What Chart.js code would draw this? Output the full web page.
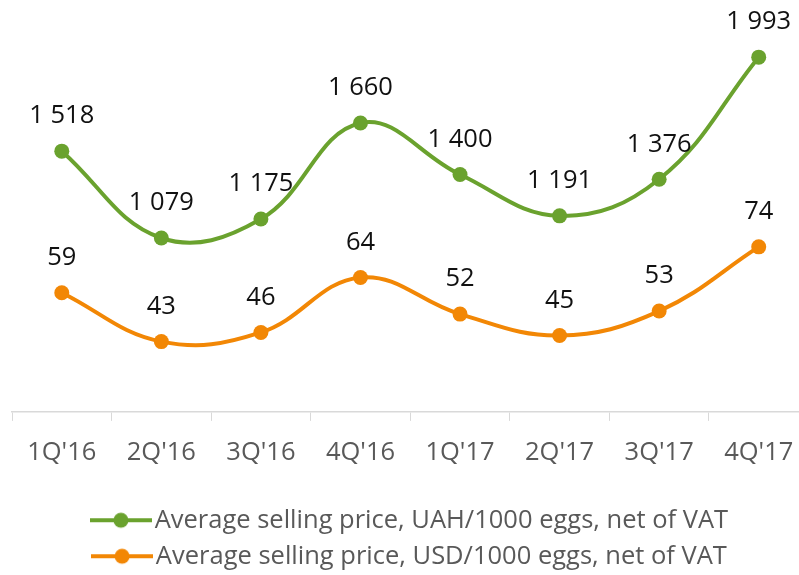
<!DOCTYPE html>
<html>
<head>
<meta charset="utf-8">
<script src="https://cdn.jsdelivr.net/npm/chart.js@4.4.0/dist/chart.umd.min.js"></script>
<style>
    html, body { margin: 0; padding: 0; background: #ffffff; overflow: hidden; }
</style>
</head>
<body>
<!-- canvas a bit wider than the window: the last category runs off the right edge -->
<canvas id="egg-prices" width="816" height="575"></canvas>
<script>
var quarters = ["1Q'16", "2Q'16", "3Q'16", "4Q'16", "1Q'17", "2Q'17", "3Q'17", "4Q'17"];
var uahPrice = [1518, 1079, 1175, 1660, 1400, 1191, 1376, 1993];
var usdPrice = [59, 43, 46, 64, 52, 45, 53, 74];
var seriesNames = [
    'Average selling price, UAH/1000 eggs, net of VAT',
    'Average selling price, USD/1000 eggs, net of VAT'
];

var GREEN = '#6aa22e';
var ORANGE = '#f28705';
var FONT = "'Open Sans', 'Noto Sans', sans-serif";

Chart.defaults.font.family = FONT;

// number with a space as thousands separator, like "1 518"
function fmt(v) {
    return String(v).replace(/\B(?=(\d{3})+(?!\d))/g, ' ');
}

// legend marker: short line with a dot in the middle
function legendMarker(color) {
    var c = document.createElement('canvas');
    c.width = 62;
    c.height = 18;
    var ctx = c.getContext('2d');
    ctx.strokeStyle = color;
    ctx.lineWidth = 4;
    ctx.beginPath();
    ctx.moveTo(0, 9);
    ctx.lineTo(62, 9);
    ctx.stroke();
    ctx.fillStyle = color;
    ctx.beginPath();
    ctx.arc(31, 9, 7.5, 0, Math.PI * 2);
    ctx.fill();
    return c;
}

// values above each point
var valueLabels = {
    id: 'valueLabels',
    afterDatasetsDraw: function (chart) {
        var ctx = chart.ctx;
        ctx.save();
        ctx.font = '25.5px ' + FONT;
        ctx.fillStyle = '#111111';
        ctx.textAlign = 'center';
        ctx.textBaseline = 'middle';
        chart.data.datasets.forEach(function (ds, i) {
            chart.getDatasetMeta(i).data.forEach(function (pt, j) {
                ctx.fillText(fmt(ds.data[j]), pt.x, pt.y - 35);
            });
        });
        ctx.restore();
    }
};

var chart = new Chart(document.getElementById('egg-prices'), {
    type: 'line',
    data: {
        labels: quarters,
        datasets: [{
            label: seriesNames[0],
            data: uahPrice,
            yAxisID: 'yUah',
            borderColor: GREEN,
            backgroundColor: GREEN,
            borderWidth: 4,
            pointRadius: 7.5,
            pointHoverRadius: 7.5,
            pointBorderWidth: 0,
            tension: 0.4,
            fill: false
        }, {
            label: seriesNames[1],
            data: usdPrice,
            yAxisID: 'yUsd',
            borderColor: ORANGE,
            backgroundColor: ORANGE,
            borderWidth: 4,
            pointRadius: 7.5,
            pointHoverRadius: 7.5,
            pointBorderWidth: 0,
            tension: 0.4,
            fill: false
        }]
    },
    options: {
        responsive: false,
        animation: false,
        layout: {
            padding: { top: 36, left: 12, right: 0, bottom: -4 }
        },
        scales: {
            x: {
                offset: true,
                grid: {
                    offset: true,
                    drawOnChartArea: false,
                    drawTicks: true,
                    tickLength: 9,
                    color: '#d9d9d9'
                },
                border: { color: '#d9d9d9', width: 1.5 },
                ticks: {
                    color: '#595959',
                    padding: 17,
                    font: { size: 25.5 }
                },
                afterFit: function (scale) {
                    scale.height += 11.5;
                }
            },
            yUah: {
                display: false,
                min: 200,
                max: 2100
            },
            yUsd: {
                display: false,
                min: 20,
                max: 143
            }
        },
        plugins: {
            tooltip: { enabled: false },
            legend: {
                position: 'bottom',
                labels: {
                    usePointStyle: true,
                    pointStyleWidth: 42,
                    color: '#595959',
                    padding: 10.5,
                    font: { size: 25.5 },
                    generateLabels: function (ch) {
                        return ch.data.datasets.map(function (ds, i) {
                            return {
                                text: ds.label,
                                fillStyle: ds.borderColor,
                                strokeStyle: ds.borderColor,
                                pointStyle: legendMarker(ds.borderColor),
                                fontColor: '#595959',
                                hidden: false,
                                datasetIndex: i
                            };
                        });
                    }
                }
            }
        }
    },
    plugins: [valueLabels]
});
</script>
</body>
</html>
